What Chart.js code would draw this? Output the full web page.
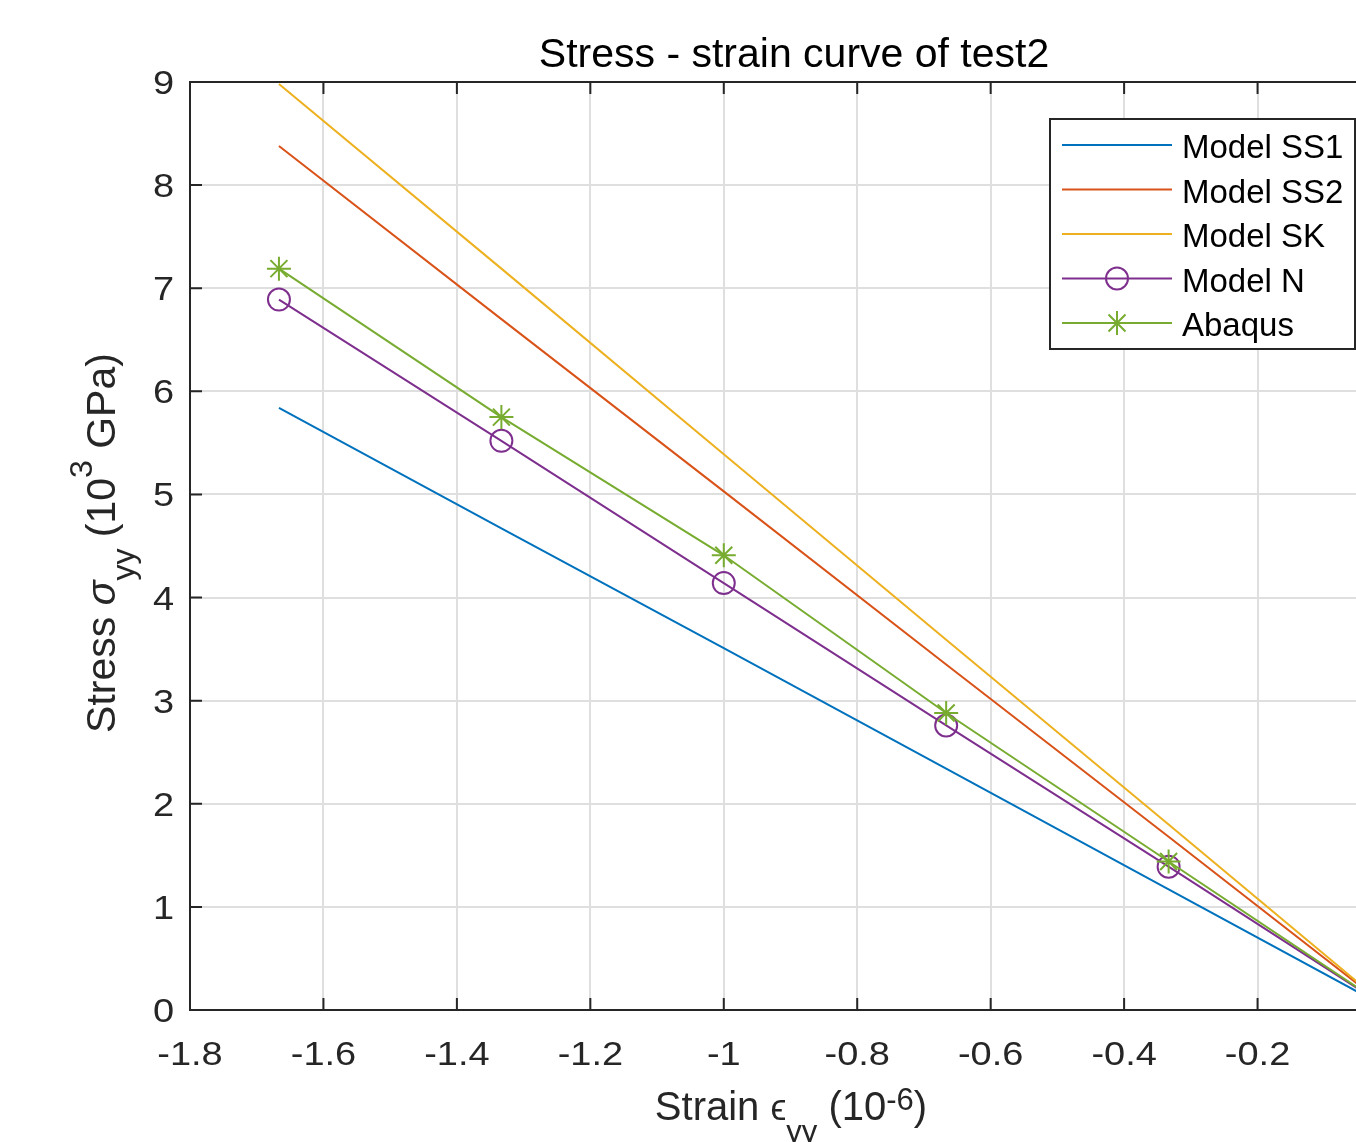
<!DOCTYPE html>
<html>
<head>
<meta charset="utf-8">
<title>Stress - strain curve of test2</title>
<script src="https://cdn.jsdelivr.net/npm/chart.js@4.4.0/dist/chart.umd.min.js"></script>
<style>
  html, body { margin: 0; padding: 0; background: #fff; overflow: hidden; }
  #wrap { width: 1356px; height: 1142px; overflow: hidden; position: relative; }
  canvas { display: block; }
</style>
</head>
<body>
<div id="wrap"><canvas id="stressChart" width="1400" height="1142"></canvas></div>
<script>
// values (strain in 1e-6, stress in 1e3 GPa)
const strain = [-1.6667, -1.3333, -1.0, -0.6667, -0.3333, 0];
const modelSS1 = [5.84, 4.67, 3.51, 2.34, 1.17, 0];
const modelSS2 = [8.38, 6.70, 5.03, 3.35, 1.68, 0];
const modelSK = [8.98, 7.19, 5.39, 3.59, 1.80, 0];
const modelN = [6.89, 5.52, 4.14, 2.76, 1.39, 0];
const abaqus = [7.19, 5.75, 4.41, 2.88, 1.44, 0];

const seriesNames = ['Model SS1', 'Model SS2', 'Model SK', 'Model N', 'Abaqus'];

const xTicks = [-1.8, -1.6, -1.4, -1.2, -1.0, -0.8, -0.6, -0.4, -0.2, 0];
const xTickLabels = ['-1.8', '-1.6', '-1.4', '-1.2', '-1', '-0.8', '-0.6', '-0.4', '-0.2', '0'];
const yTicks = [0, 1, 2, 3, 4, 5, 6, 7, 8, 9];
const yTickLabels = ['0', '1', '2', '3', '4', '5', '6', '7', '8', '9'];

const FONT = '"Liberation Sans", Arial, Helvetica, sans-serif';
const axisColor = '#262626';
const gridColor = '#dfdfdf';

function pts(vals) {
  return strain.map((x, i) => ({ x: x, y: vals[i] }));
}

function lineSet(label, vals, color, order, extra) {
  return Object.assign({
    label: label,
    data: pts(vals),
    borderColor: color,
    backgroundColor: color,
    borderWidth: 2,
    pointRadius: 0,
    fill: false,
    tension: 0,
    order: order
  }, extra || {});
}

// draws text with a slight horizontal stretch like the reference tick labels
function wideText(ctx, txt, x, y, align, sx) {
  ctx.save();
  ctx.translate(x, y);
  ctx.scale(sx, 1);
  ctx.textAlign = align;
  ctx.fillText(txt, 0, 0);
  ctx.restore();
}

// pieces: [text, size, shift, italic]
function richText(ctx, pieces, cx, baseY) {
  let total = 0;
  pieces.forEach(p => {
    ctx.font = (p[3] ? 'italic ' : '') + p[1] + 'px ' + FONT;
    total += ctx.measureText(p[0]).width;
  });
  let x = cx - total / 2;
  ctx.textAlign = 'left';
  ctx.textBaseline = 'alphabetic';
  pieces.forEach(p => {
    ctx.font = (p[3] ? 'italic ' : '') + p[1] + 'px ' + FONT;
    ctx.fillText(p[0], x, baseY + p[2]);
    x += ctx.measureText(p[0]).width;
  });
}

const matlabAxes = {
  id: 'matlabAxes',
  afterDatasetsDraw(chart) {
    const { ctx, chartArea: a, scales: { x, y } } = chart;
    ctx.save();
    ctx.strokeStyle = axisColor;
    ctx.lineWidth = 2;
    ctx.strokeRect(a.left, a.top, a.right - a.left, a.bottom - a.top);

    // inward tick marks
    const tl = 12;
    ctx.beginPath();
    x.ticks.forEach(t => {
      const px = x.getPixelForValue(t.value);
      ctx.moveTo(px, a.bottom); ctx.lineTo(px, a.bottom - tl);
      ctx.moveTo(px, a.top); ctx.lineTo(px, a.top + tl);
    });
    y.ticks.forEach(t => {
      const py = y.getPixelForValue(t.value);
      ctx.moveTo(a.left, py); ctx.lineTo(a.left + tl, py);
      ctx.moveTo(a.right, py); ctx.lineTo(a.right - tl, py);
    });
    ctx.stroke();

    // tick labels
    ctx.fillStyle = axisColor;
    ctx.font = '33px ' + FONT;
    ctx.textBaseline = 'alphabetic';
    x.ticks.forEach((t, i) => {
      wideText(ctx, xTickLabels[i], x.getPixelForValue(t.value), a.bottom + 55, 'center', 1.15);
    });
    y.ticks.forEach((t, i) => {
      wideText(ctx, yTickLabels[i], a.left - 16, y.getPixelForValue(t.value) + 12, 'right', 1.15);
    });

    // title
    ctx.fillStyle = '#000';
    ctx.font = '41px ' + FONT;
    ctx.textAlign = 'center';
    ctx.fillText('Stress - strain curve of test2', 794, 67);

    // x axis label
    ctx.fillStyle = axisColor;
    richText(ctx, [
      ['Strain ', 40, 0],
      ['\u03F5', 36, 0],
      ['yy', 31, 22],
      [' (10', 40, 0],
      ['-6', 31, -10],
      [')', 40, 0]
    ], 791, 1120);

    // y axis label (rotated)
    ctx.save();
    ctx.translate(115, 543);
    ctx.rotate(-Math.PI / 2);
    richText(ctx, [
      ['Stress ', 41, 0],
      ['\u03C3', 41, 0, true],
      ['yy', 32, 19],
      [' (10', 41, 0],
      ['3', 32, -23],
      [' GPa)', 41, 0]
    ], 0, 0);
    ctx.restore();
    ctx.restore();
  },
  afterDraw(chart) {
    const ctx = chart.ctx;
    ctx.save();
    const bx = 1050, by = 119, bw = 305, bh = 230;
    ctx.fillStyle = '#fff';
    ctx.fillRect(bx, by, bw, bh);
    ctx.strokeStyle = axisColor;
    ctx.lineWidth = 2;
    ctx.strokeRect(bx, by, bw, bh);

    chart.data.datasets.forEach((ds, i) => {
      const cy = 145 + i * 44.5;
      ctx.strokeStyle = ds.borderColor;
      ctx.lineWidth = 2;
      ctx.beginPath();
      ctx.moveTo(1062, cy);
      ctx.lineTo(1172, cy);
      ctx.stroke();
      if (ds.pointRadius > 0) {
        ctx.fillStyle = 'rgba(0,0,0,0)';
        ctx.strokeStyle = ds.pointBorderColor;
        ctx.lineWidth = ds.pointBorderWidth;
        Chart.helpers.drawPoint(ctx, {
          pointStyle: ds.pointStyle,
          radius: ds.pointRadius,
          borderWidth: ds.pointBorderWidth,
          rotation: 0
        }, 1117, cy);
      }
      ctx.fillStyle = '#000';
      ctx.font = '33px ' + FONT;
      ctx.textAlign = 'left';
      ctx.textBaseline = 'alphabetic';
      ctx.fillText(ds.label, 1182, cy + 13);
    });
    ctx.restore();
  }
};

const ctx = document.getElementById('stressChart').getContext('2d');
new Chart(ctx, {
  type: 'line',
  data: {
    datasets: [
      lineSet(seriesNames[0], modelSS1, '#0072BD', 5),
      lineSet(seriesNames[1], modelSS2, '#D95319', 4),
      lineSet(seriesNames[2], modelSK, '#EDB120', 3),
      lineSet(seriesNames[3], modelN, '#7E2F8E', 2, {
        pointStyle: 'circle',
        pointRadius: 11,
        pointBorderWidth: 2,
        pointBorderColor: '#7E2F8E',
        pointBackgroundColor: 'rgba(0,0,0,0)'
      }),
      lineSet(seriesNames[4], abaqus, '#77AC30', 1, {
        pointStyle: 'star',
        pointRadius: 12,
        pointBorderWidth: 2,
        pointBorderColor: '#77AC30',
        pointBackgroundColor: 'rgba(0,0,0,0)'
      })
    ]
  },
  options: {
    responsive: false,
    devicePixelRatio: 1,
    animation: false,
    layout: { autoPadding: false, padding: { top: 82, left: 0, right: 9, bottom: 0 } },
    plugins: {
      legend: { display: false },
      title: { display: false },
      tooltip: { enabled: false }
    },
    scales: {
      x: {
        type: 'linear',
        min: -1.8,
        max: 0,
        afterBuildTicks: s => { s.ticks = xTicks.map(v => ({ value: v })); },
        afterFit: s => { s.height = 132; },
        ticks: { display: false },
        grid: { color: gridColor, lineWidth: 2, drawTicks: false },
        border: { display: false }
      },
      y: {
        type: 'linear',
        min: 0,
        max: 9,
        afterBuildTicks: s => { s.ticks = yTicks.map(v => ({ value: v })); },
        afterFit: s => { s.width = 190; },
        ticks: { display: false },
        grid: { color: gridColor, lineWidth: 2, drawTicks: false },
        border: { display: false }
      }
    }
  },
  plugins: [matlabAxes]
});
</script>
</body>
</html>
